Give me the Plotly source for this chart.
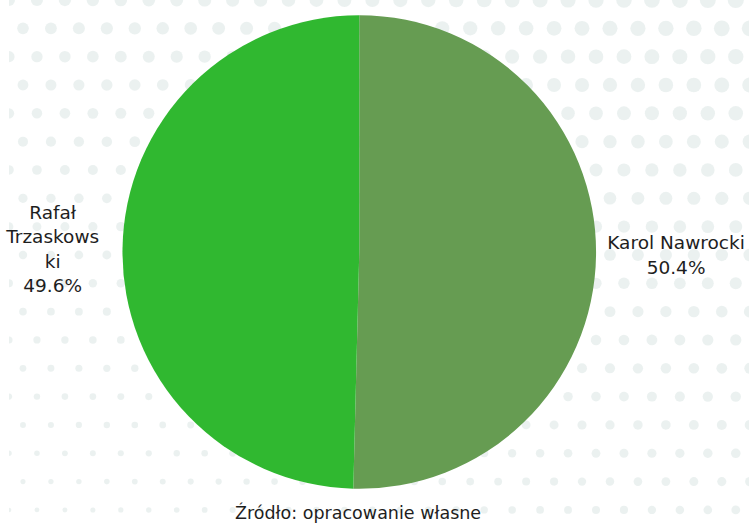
import plotly.graph_objects as go

# ---- data ----
candidates = ["Karol Nawrocki", "Rafał Trzaskowski"]
label_text = ["Karol Nawrocki", "Rafał<br>Trzaskows<br>ki"]
vote_share = [50.4, 49.6]
slice_colors = ["#669c52", "#30b830"]
source_note = "Źródło: opracowanie własne"

W, H = 750, 524
FONT = "DejaVu Sans"

# ---- decorative dotted background ----
dx, dy = 28.33, 28.33
dot_x, dot_y, dot_s = [], [], []
for r in range(0, 20):
    y = r * dy
    off = 0 if r % 2 == 0 else dx / 2
    c = 0
    while True:
        x = off + c * dx
        if x > W + 10:
            break
        d = 12 + 0.0057 * x - 0.0145 * y
        dot_x.append(x)
        dot_y.append(y)
        dot_s.append(max(4.0, d))
        c += 1

fig = go.Figure()
fig.add_trace(go.Scatter(
    x=dot_x, y=dot_y, mode="markers",
    marker=dict(size=dot_s, color="#e3ebe9", line=dict(width=0)),
    hoverinfo="skip", showlegend=False,
))

# pie geometry (pixels): center (355, 252), radius 240
cx, cy, rad = 355, 252, 240
fig.add_trace(go.Pie(
    labels=candidates, values=vote_share, text=label_text,
    texttemplate="%{text}<br>%{percent:.1%}",
    textposition="outside",
    textfont=dict(family=FONT, size=18.5, color="#1e1e1e"),
    marker=dict(colors=slice_colors, line=dict(width=0)),
    sort=False, direction="clockwise", rotation=0,
    domain=dict(x=[(cx - rad) / W, (cx + rad) / W],
                y=[(H - cy - rad) / H, (H - cy + rad) / H]),
    showlegend=False,
))

fig.add_annotation(
    text=source_note, x=354 / W, y=1 - 512 / H, xref="paper", yref="paper",
    showarrow=False, xanchor="center", yanchor="middle",
    font=dict(family=FONT, size=17.5, color="#1e1e1e"),
)

fig.update_layout(
    width=W, height=H,
    margin=dict(l=0, r=0, t=0, b=0),
    paper_bgcolor="white", plot_bgcolor="rgba(0,0,0,0)",
    xaxis=dict(range=[0, W], visible=False, fixedrange=True, domain=[0, 1]),
    yaxis=dict(range=[H, 0], visible=False, fixedrange=True, domain=[0, 1]),
    font=dict(family=FONT),
)

fig.write_html(
    "out.html",
    config={"displayModeBar": False},
    post_script="document.body.style.margin='0px';document.body.style.overflow='hidden';",
)
